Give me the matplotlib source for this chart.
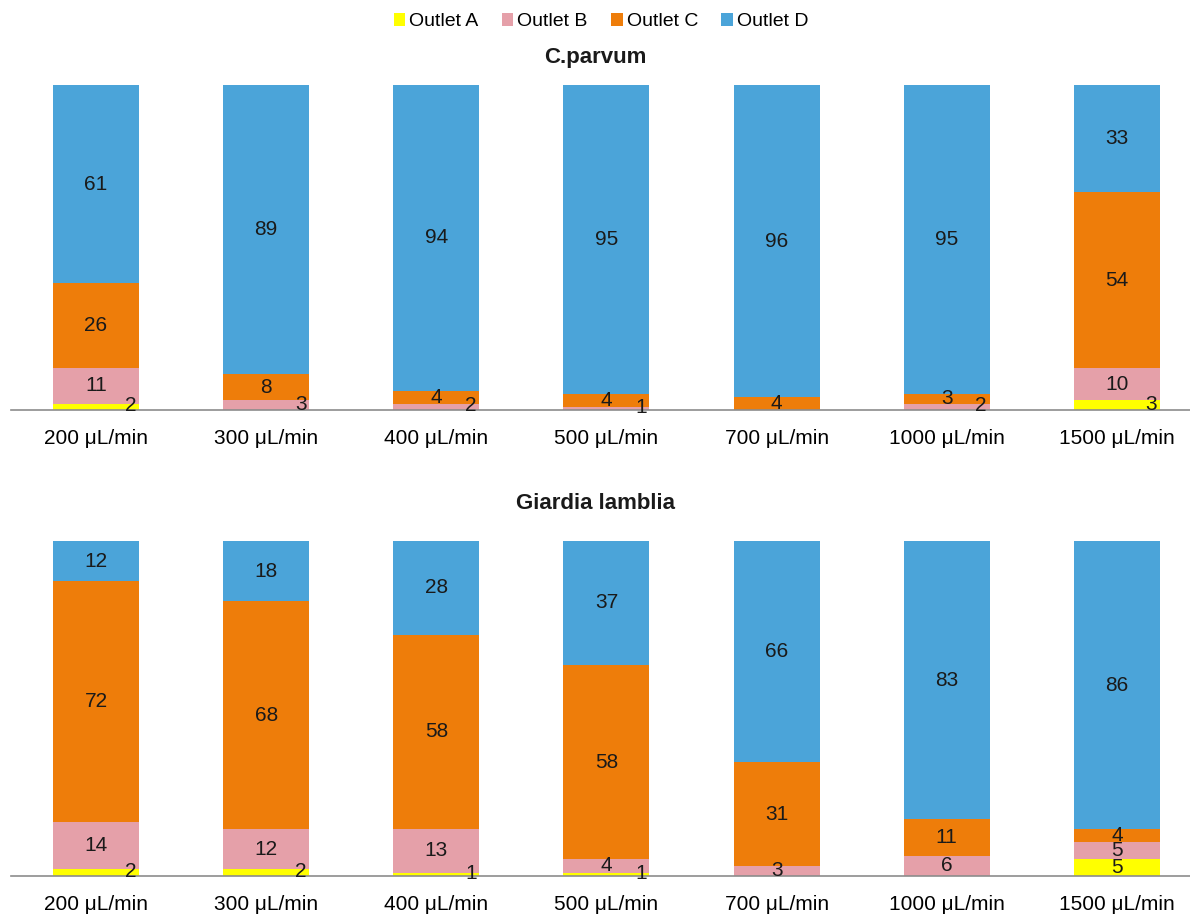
import numpy as np
import matplotlib.pyplot as plt
from matplotlib.patches import Patch

plt.rcParams['font.family'] = ['Liberation Sans', 'DejaVu Sans']

flows = ['200 μL/min', '300 μL/min', '400 μL/min', '500 μL/min',
         '700 μL/min', '1000 μL/min', '1500 μL/min']
outlets = ['Outlet A', 'Outlet B', 'Outlet C', 'Outlet D']
colors = ['#FFFF00', '#E5A0A9', '#EE7D0A', '#4BA4D9']

# percentages per outlet
parvum_a = [2, 0, 0, 0, 0, 0, 3]
parvum_b = [11, 3, 2, 1, 0, 2, 10]
parvum_c = [26, 8, 4, 4, 4, 3, 54]
parvum_d = [61, 89, 94, 95, 96, 95, 33]

giardia_a = [2, 2, 1, 1, 0, 0, 5]
giardia_b = [14, 12, 13, 4, 3, 6, 5]
giardia_c = [72, 68, 58, 58, 31, 11, 4]
giardia_d = [12, 18, 28, 37, 66, 83, 86]

# labels Excel pushed to the right edge of the bar: (series index, bar index)
parvum_shift = [(0, 0), (1, 1), (1, 2), (1, 3), (1, 5), (0, 6)]
giardia_shift = [(0, 0), (0, 1), (0, 2), (0, 3)]

fig = plt.figure(figsize=(11.9, 9.14), dpi=100)
W = 0.506


def draw(ax, series, shifted):
    x = np.arange(len(flows))
    bottom = np.zeros(len(flows))
    for i, vals in enumerate(series):
        vals = np.array(vals, dtype=float)
        ax.bar(x, vals, W, bottom=bottom, color=colors[i], linewidth=0)
        for j, v in enumerate(vals):
            if v <= 0:
                continue
            yc = bottom[j] + v / 2
            if (i, j) in shifted:
                ax.text(x[j] + W * 0.4, yc + 0.3, f'{int(v)}', ha='center',
                        va='center', fontsize=15, color='#1a1a1a')
            else:
                ax.text(x[j], yc, f'{int(v)}', ha='center', va='center',
                        fontsize=15, color='#1a1a1a')
        bottom += vals
    ax.set_xlim(-0.5, 6.43)
    ax.set_ylim(0, 100)
    ax.set_xticks(x)
    ax.set_xticklabels(flows, fontsize=15)
    ax.tick_params(axis='x', length=0, pad=14)
    ax.set_yticks([])
    for s in ['top', 'right', 'left']:
        ax.spines[s].set_visible(False)
    ax.spines['bottom'].set_color('#8c8c8c')
    ax.spines['bottom'].set_linewidth(1.2)
    ax.set_clip_on(False)


ax1 = fig.add_axes([0.0092, 0.5514, 0.9908, 0.3556])
draw(ax1, [parvum_a, parvum_b, parvum_c, parvum_d], parvum_shift)

ax2 = fig.add_axes([0.0092, 0.0416, 0.9908, 0.3665])
draw(ax2, [giardia_a, giardia_b, giardia_c, giardia_d], giardia_shift)

fig.text(0.5, 0.937, 'C.parvum', ha='center', va='center', fontsize=16,
         fontweight='bold', color='#1a1a1a')
fig.text(0.5, 0.449, 'Giardia lamblia', ha='center', va='center',
         fontsize=16, fontweight='bold', color='#1a1a1a')

handles = [Patch(facecolor=c, label=l) for c, l in zip(colors, outlets)]
fig.legend(handles=handles, loc='center', bbox_to_anchor=(0.505, 0.976),
           ncol=4, frameon=False, fontsize=14, handlelength=0.6,
           handleheight=0.6, handletextpad=0.2, columnspacing=1.2)

fig.savefig('out.png', dpi=100)
